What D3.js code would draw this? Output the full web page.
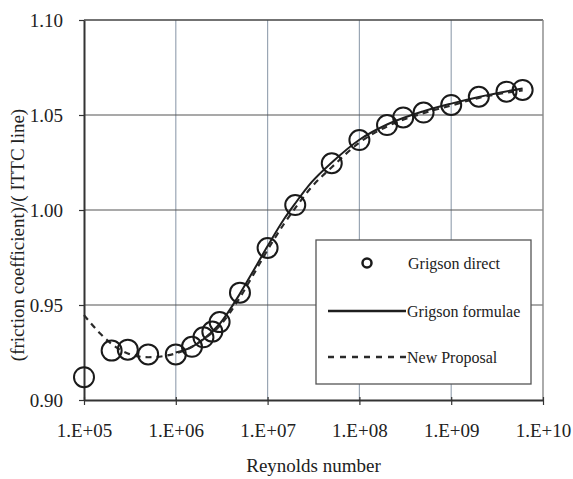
<!DOCTYPE html>
<html>
<head>
<meta charset="utf-8">
<script src="https://cdn.jsdelivr.net/npm/d3@7"></script>
</head>
<body style="margin:0;background:#fff">
<svg id="chart" width="573" height="479"></svg>
<script>
// Grigson direct evaluations
const directRe = [1e5, 2e5, 3e5, 5e5, 1e6, 1.5e6, 2e6, 2.5e6, 3e6, 5e6, 1e7, 2e7, 5e7, 1e8, 2e8, 3e8, 5e8, 1e9, 2e9, 4e9, 6e9];
const directRatio = [0.912, 0.926, 0.9265, 0.924, 0.924, 0.928, 0.933, 0.936, 0.941, 0.9565, 0.980, 1.0026, 1.0246, 1.0368, 1.0447, 1.0487, 1.0513, 1.0553, 1.0596, 1.0623, 1.0632];

// Grigson formulae curve
const formulaRe = [1e6, 1.5e6, 2e6, 3e6, 5e6, 7e6, 1e7, 1.5e7, 2e7, 3e7, 5e7, 1e8, 2e8, 5e8, 1e9, 2e9, 6e9];
const formulaRatio = [0.925, 0.928, 0.932, 0.940, 0.956, 0.968, 0.981, 0.995, 1.0035, 1.0145, 1.025, 1.037, 1.045, 1.052, 1.056, 1.0595, 1.064];

// New Proposal curve
const proposalRe = [1e5, 1.5e5, 2e5, 3e5, 5e5, 1e6, 1.5e6, 2e6, 3e6, 5e6, 7e6, 1e7, 1.5e7, 2e7, 3e7, 5e7, 1e8, 2e8, 5e8, 1e9, 2e9, 6e9];
const proposalRatio = [0.9447, 0.935, 0.9295, 0.9245, 0.9225, 0.9245, 0.928, 0.932, 0.939, 0.954, 0.966, 0.979, 0.9925, 1.001, 1.012, 1.0225, 1.0355, 1.044, 1.051, 1.055, 1.059, 1.063];

// Axis ticks
const xTicks = [1e5, 1e6, 1e7, 1e8, 1e9, 1e10];
const xTickLabels = ["1.E+05", "1.E+06", "1.E+07", "1.E+08", "1.E+09", "1.E+10"];
const yTicks = [0.90, 0.95, 1.00, 1.05, 1.10];

const legendLabels = ["Grigson direct", "Grigson formulae", "New Proposal"];

const FONT = "Liberation Serif";
const INK = "#222";

const svg = d3.select("#chart");
const L = 84, R = 543, T = 20, B = 400;

const x = d3.scaleLog().domain([1e5, 1e10]).range([L, R]);
const y = d3.scaleLinear().domain([0.90, 1.10]).range([B, T]);

// grid
svg.append("g").selectAll("line").data(xTicks.slice(1, -1)).join("line")
  .attr("x1", d => x(d)).attr("x2", d => x(d)).attr("y1", T).attr("y2", B)
  .attr("stroke", "#9aa6b4").attr("stroke-width", 1.2);
svg.append("g").selectAll("line").data(yTicks.slice(1, -1)).join("line")
  .attr("x1", L).attr("x2", R).attr("y1", d => y(d)).attr("y2", d => y(d))
  .attr("stroke", "#555").attr("stroke-width", 1.2);

// frame
svg.append("line").attr("x1", L).attr("x2", R).attr("y1", T).attr("y2", T).attr("stroke", "#444").attr("stroke-width", 1.6);
svg.append("line").attr("x1", R).attr("x2", R).attr("y1", T).attr("y2", B).attr("stroke", "#888").attr("stroke-width", 1.4);

// axes
const xAxis = d3.axisBottom(x).tickValues(xTicks)
  .tickFormat((d, i) => xTickLabels[i]).tickSize(5).tickSizeOuter(0);
const gx = svg.append("g").attr("transform", `translate(0,${B})`).call(xAxis)
  .attr("font-family", FONT).attr("font-size", 19);
gx.select(".domain").attr("stroke", "#333").attr("stroke-width", 2);
gx.selectAll(".tick line").attr("stroke", "#333").attr("stroke-width", 1.2).attr("y1", -3);
gx.selectAll(".tick text").attr("dy", 0).attr("y", 37).attr("fill", INK);

const yAxis = d3.axisLeft(y).tickValues(yTicks).tickFormat(d3.format(".2f")).tickSize(5).tickSizeOuter(0);
const gy = svg.append("g").attr("transform", `translate(${L},0)`).call(yAxis)
  .attr("font-family", FONT).attr("font-size", 19);
gy.select(".domain").attr("stroke", "#333").attr("stroke-width", 2);
gy.selectAll(".tick line").attr("stroke", "#333").attr("stroke-width", 1.2);
gy.selectAll(".tick text").attr("x", -21).attr("fill", INK);

// axis titles
svg.append("text").attr("x", (L + R) / 2).attr("y", 472).attr("text-anchor", "middle")
  .attr("font-family", FONT).attr("font-size", 19).attr("fill", INK).text("Reynolds number");
svg.append("text").attr("transform", "translate(24,235) rotate(-90)")
  .attr("text-anchor", "middle").attr("font-family", FONT).attr("font-size", 19).attr("fill", INK)
  .text("(friction coefficient)/( ITTC line)");

// curves
const line = d3.line().x(d => x(d[0])).y(d => y(d[1])).curve(d3.curveMonotoneX);
svg.append("path").datum(d3.zip(formulaRe, formulaRatio)).attr("d", line)
  .attr("fill", "none").attr("stroke", "#1e1e1e").attr("stroke-width", 2);
svg.append("path").datum(d3.zip(proposalRe, proposalRatio)).attr("d", line)
  .attr("fill", "none").attr("stroke", "#2a2a2a").attr("stroke-width", 2.2)
  .attr("stroke-dasharray", "6,5");

// direct points
svg.append("g").selectAll("circle").data(d3.zip(directRe, directRatio)).join("circle")
  .attr("cx", d => x(d[0])).attr("cy", d => y(d[1])).attr("r", 10)
  .attr("fill", "none").attr("stroke", "#1a1a1a").attr("stroke-width", 2);

// legend
const lg = svg.append("g");
lg.append("rect").attr("x", 316).attr("y", 240).attr("width", 215).attr("height", 144)
  .attr("fill", "#fff").attr("stroke", "#555").attr("stroke-width", 1.3);
lg.append("circle").attr("cx", 367).attr("cy", 263).attr("r", 4.5)
  .attr("fill", "none").attr("stroke", "#1a1a1a").attr("stroke-width", 2.5);
lg.append("line").attr("x1", 328).attr("x2", 406).attr("y1", 311).attr("y2", 311)
  .attr("stroke", "#1e1e1e").attr("stroke-width", 2.4);
lg.append("line").attr("x1", 328).attr("x2", 406).attr("y1", 357).attr("y2", 357)
  .attr("stroke", "#2a2a2a").attr("stroke-width", 2.4).attr("stroke-dasharray", "6,6");
lg.selectAll("text").data(legendLabels).join("text")
  .attr("x", (d, i) => i === 0 ? 408 : 407).attr("y", (d, i) => [269, 317, 363][i])
  .attr("font-family", FONT).attr("font-size", 16).attr("fill", INK).text(d => d);
</script>
</body>
</html>
